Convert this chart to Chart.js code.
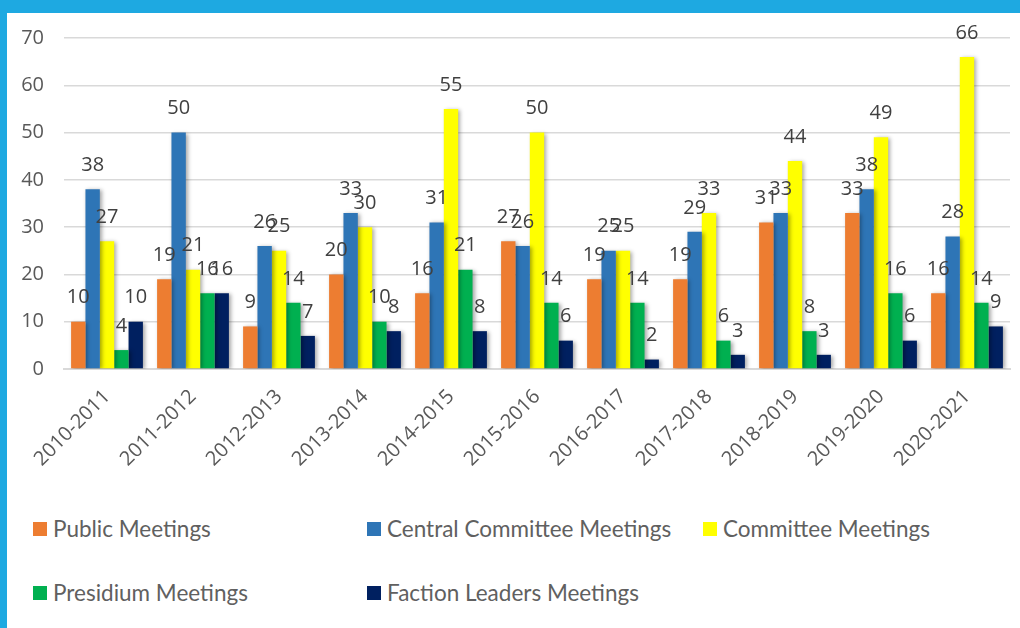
<!DOCTYPE html>
<html>
<head>
<meta charset="utf-8">
<script src="https://cdn.jsdelivr.net/npm/chart.js@4.4.0/dist/chart.umd.min.js"></script>
<style>
  body { margin: 0; width: 1020px; height: 628px; background: #fff; position: relative; overflow: hidden; font-family: 'Lato', sans-serif; }
  #topBar { position: absolute; left: 0; top: 0; width: 1020px; height: 13px; background: #1EA9E1; }
  #leftBar { position: absolute; left: 0; top: 0; width: 7px; height: 628px; background: #1EA9E1; }
  #wrap { position: absolute; left: 7px; top: 6px; width: 1013px; height: 487px; }
  .leg { position: absolute; display: flex; align-items: center; font-size: 22.5px; color: #606060; white-space: nowrap; }
  .leg span.box { display: inline-block; width: 14px; height: 14px; margin-right: 6px; }
</style>
</head>
<body>
<div id="topBar"></div>
<div id="leftBar"></div>
<div id="wrap"><canvas id="chart"></canvas></div>
<div id="legend"></div>
<script>
const seasons = ['2010-2011', '2011-2012', '2012-2013', '2013-2014', '2014-2015', '2015-2016',
                 '2016-2017', '2017-2018', '2018-2019', '2019-2020', '2020-2021'];
const publicMeetings    = [10, 19, 9, 20, 16, 27, 19, 19, 31, 33, 16];
const centralCommittee  = [38, 50, 26, 33, 31, 26, 25, 29, 33, 38, 28];
const committeeMeetings = [27, 21, 25, 30, 55, 50, 25, 33, 44, 49, 66];
const presidium         = [4, 16, 14, 10, 21, 14, 14, 6, 8, 16, 14];
const factionLeaders    = [10, 16, 7, 8, 8, 6, 2, 3, 3, 6, 9];
const yTicks = [0, 10, 20, 30, 40, 50, 60, 70];

const series = [
    { label: 'Public Meetings', data: publicMeetings, color: '#ED7D31' },
    { label: 'Central Committee Meetings', data: centralCommittee, color: '#2E75B6' },
    { label: 'Committee Meetings', data: committeeMeetings, color: '#FFFF00' },
    { label: 'Presidium Meetings', data: presidium, color: '#00B050' },
    { label: 'Faction Leaders Meetings', data: factionLeaders, color: '#002060' }
];

// soft drop shadow under bars, like the office chart
const barShadow = {
    id: 'barShadow',
    beforeDatasetsDraw(chart) {
        const ctx = chart.ctx;
        ctx.save();
        ctx.shadowColor = 'rgba(0,0,0,0.35)';
        ctx.shadowBlur = 4;
        ctx.shadowOffsetX = 2;
        ctx.shadowOffsetY = 1;
    },
    afterDatasetsDraw(chart) {
        chart.ctx.restore();
    }
};

// value labels above each bar
const topLabels = {
    id: 'topLabels',
    afterDatasetsDraw(chart) {
        const ctx = chart.ctx;
        ctx.save();
        ctx.textAlign = 'center';
        ctx.textBaseline = 'middle';
        ctx.font = '20px "Open Sans", sans-serif';
        ctx.fillStyle = '#404040';
        chart.data.datasets.forEach((ds, i) => {
            chart.getDatasetMeta(i).data.forEach((bar, j) => {
                ctx.fillText(ds.data[j], bar.x, bar.y - 24);
            });
        });
        ctx.restore();
    }
};

new Chart(document.getElementById('chart'), {
    type: 'bar',
    data: {
        labels: seasons,
        datasets: series.map(s => ({
            label: s.label,
            data: s.data,
            backgroundColor: s.color,
            borderWidth: 0,
            categoryPercentage: 0.835,
            barPercentage: 1
        }))
    },
    options: {
        responsive: true,
        maintainAspectRatio: false,
        animation: false,
        layout: { padding: { top: 3, right: 10, left: 0, bottom: 0 } },
        plugins: { legend: { display: false }, tooltip: { enabled: false } },
        scales: {
            x: {
                grid: { display: false, drawTicks: false },
                border: { color: '#d9d9d9', width: 2 },
                ticks: {
                    minRotation: 45, maxRotation: 45, padding: 16,
                    color: '#595959',
                    font: { family: 'Open Sans', size: 20 }
                },
                afterFit(scale) { scale.height = 124; }
            },
            y: {
                min: 0, max: 70,
                afterBuildTicks(scale) { scale.ticks = yTicks.map(v => ({ value: v })); },
                grid: { color: '#d9d9d9', lineWidth: 1.5, drawTicks: false },
                border: { display: false },
                ticks: {
                    padding: 20,
                    color: '#595959',
                    font: { family: 'Open Sans', size: 20 }
                },
                afterFit(scale) { scale.width = 57; }
            }
        }
    },
    plugins: [barShadow, topLabels]
});

// legend in the same places as the reference
const legendPos = [[33, 530], [367, 530], [703, 530], [33, 594], [367, 594]];
const legend = document.getElementById('legend');
series.forEach((s, i) => {
    const el = document.createElement('div');
    el.className = 'leg';
    el.style.left = legendPos[i][0] + 'px';
    el.style.top = (legendPos[i][1] - 15) + 'px';
    el.innerHTML = `<span class="box" style="background:${s.color}"></span>${s.label}`;
    legend.appendChild(el);
});
</script>
</body>
</html>
